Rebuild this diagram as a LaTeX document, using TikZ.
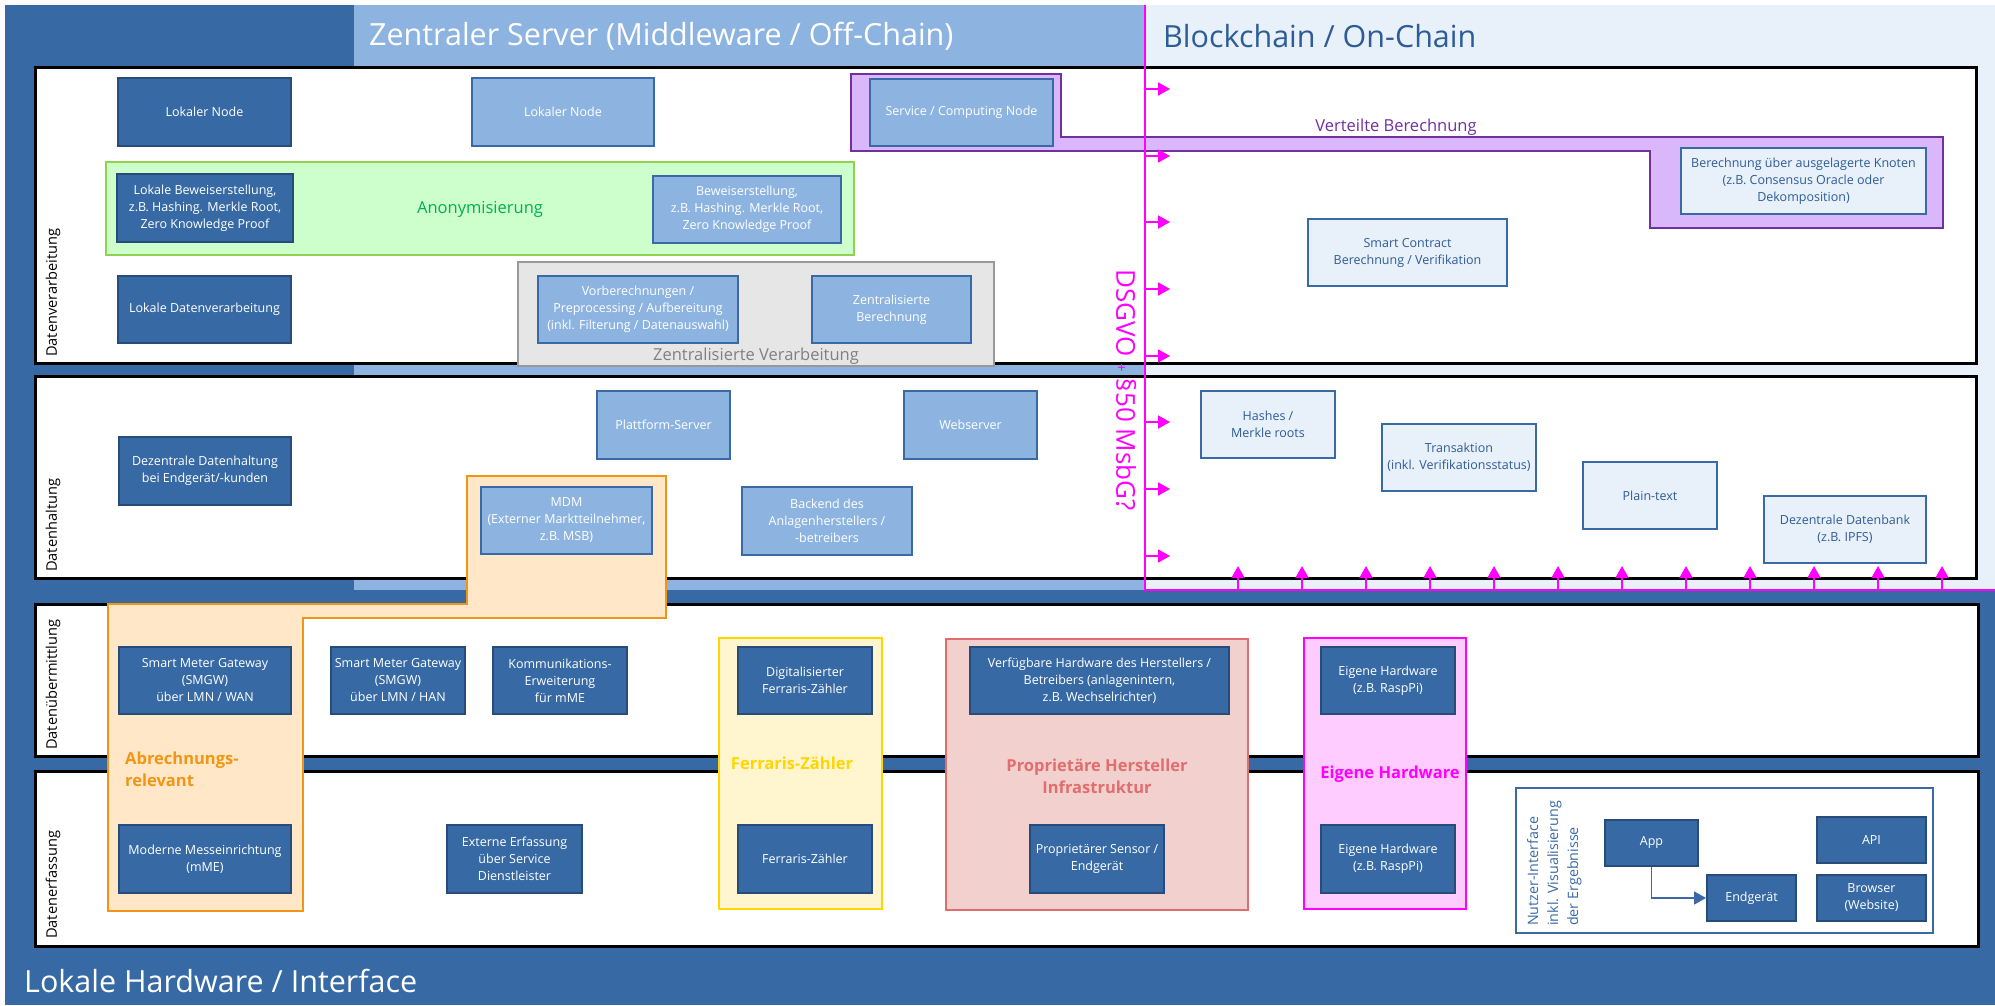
\documentclass[tikz,border=0pt]{standalone}
\usepackage{fontspec}
\setmainfont{Open Sans}
\usetikzlibrary{arrows.meta}
\definecolor{dunkelblau}{RGB}{55,106,164}
\definecolor{randblau}{RGB}{40,76,122}
\definecolor{hellblau}{RGB}{141,180,224}
\definecolor{mittelblau}{RGB}{58,106,166}
\definecolor{blassblau}{RGB}{232,240,249}
\definecolor{textblau}{RGB}{46,92,150}
\definecolor{lila}{RGB}{112,48,160}
\definecolor{lilahell}{RGB}{218,182,250}
\definecolor{gruen}{RGB}{0,176,80}
\definecolor{gruenhell}{RGB}{204,255,204}
\definecolor{gruenrand}{RGB}{146,208,80}
\definecolor{grauhell}{RGB}{230,230,230}
\definecolor{grau}{RGB}{128,128,128}
\definecolor{orange}{RGB}{240,150,20}
\definecolor{orangehell}{RGB}{255,231,200}
\definecolor{gelb}{RGB}{255,214,0}
\definecolor{gelbhell}{RGB}{255,245,206}
\definecolor{rot}{RGB}{224,110,110}
\definecolor{rothell}{RGB}{242,208,206}
\definecolor{magenta}{RGB}{255,0,255}
\definecolor{magentahell}{RGB}{255,204,255}
\begin{document}
\begin{tikzpicture}[x=1pt,y=-1pt,>={Triangle[length=12pt,width=13pt]}]
			\tikzset{box/.style={draw,line width=1.8pt,inner sep=0pt,align=center,font=\fontsize{12.5}{17}\selectfont},
				sz/.style 2 args={minimum width=#1pt,minimum height=#2pt},
				dbox/.style={box,fill=dunkelblau,draw=randblau,text=white},
				lbox/.style={box,fill=hellblau,draw=mittelblau,text=white},
				vbox/.style={box,fill=blassblau,draw=mittelblau,text=textblau},
				grp/.style={line width=2.2pt},
				panel/.style={draw=black,fill=white,line width=3pt},
				zeile/.style={rotate=90,anchor=west,inner sep=0pt,font=\fontsize{14.6}{14.6}\selectfont},
				titel/.style={anchor=west,inner sep=0pt,font=\fontsize{30.5}{30.5}\selectfont},
				glabel/.style={inner sep=0pt,align=center,font=\fontsize{16.5}{22}\selectfont},
				fett/.style={font=\bfseries\fontsize{16.5}{22}\selectfont},
				pfeil/.style={->,draw=magenta,line width=2pt}
			}
			\useasboundingbox (0,0) rectangle (1995,1005);
			\fill[dunkelblau] (5,5) rectangle (1995,1005);
			\fill[hellblau] (354,5) rectangle (1145,590);
			\fill[blassblau] (1145,5) rectangle (1995,590);
			\node[titel,text=white] (tZentral) at (369,36) {Zentraler Server (Middleware / Off-Chain)};
			\node[titel,text=textblau] (tChain) at (1163,36) {Blockchain / On-Chain};
			\node[titel,text=white] (tLokal) at (24,981) {Lokale Hardware / Interface};
			% Zeilen
			\draw[panel] (35,67) rectangle (1976,363);
			\draw[panel] (35,376) rectangle (1976,578);
			\draw[panel] (35,604) rectangle (1978,756);
			\draw[panel] (35,771) rectangle (1978,946);
			\node[zeile] (zVerarb) at (53,357) {Datenverarbeitung};
			\node[zeile] (zHaltung) at (53,572) {Datenhaltung};
			\node[zeile] (zUebermitt) at (53,750) {Datenübermittlung};
			\node[zeile] (zErfass) at (53,939) {Datenerfassung};
			% Gruppen
			\filldraw[grp,draw=gruenrand,fill=gruenhell] (106,162) rectangle (854,255);
			\filldraw[grp,draw=grau!80,fill=grauhell] (518,262) rectangle (994,366);
			\filldraw[draw=lila,fill=lilahell,line width=2.5pt] (851,74) -- (1061,74) -- (1061,137) -- (1943,137) -- (1943,228) -- (1650,228) -- (1650,151) -- (851,151) -- cycle;
			\filldraw[draw=orange,fill=orangehell,line width=2.5pt] (108,604) -- (467,604) -- (467,476) -- (666,476) -- (666,618) -- (303,618) -- (303,911) -- (108,911) -- cycle;
			\filldraw[grp,draw=gelb,fill=gelbhell] (719,638) rectangle (882,909);
			\filldraw[grp,draw=rot,fill=rothell] (946,639) rectangle (1248,910);
			\filldraw[grp,draw=magenta,fill=magentahell] (1304,638) rectangle (1466,909);
			\filldraw[line width=1.5pt,draw=mittelblau,fill=white] (1516,788) rectangle (1933,933);
			% DSGVO-Grenze
			\draw[magenta,line width=2.5pt] (1145,5) -- (1145,590) -- (1995,590);
			\foreach \y in {89,156,222,289,356,422,489,556} \draw[pfeil] (1145,\y) -- ++(25,0);
			\foreach \i in {0,...,11} \draw[pfeil] ({1238+64*\i},590) -- ++(0,-24);
			\node[rotate=-90,inner sep=0pt,text=magenta,font=\fontsize{26}{26}\selectfont] (dsgvo) at (1126,390) {DSGVO {\fontsize{15}{15}\selectfont+} §50 MsbG?};
			% Datenverarbeitung
			\node[dbox,sz={173}{68}] (lokNodeA) at (204.5,112) {Lokaler Node};
			\node[lbox,sz={182}{68}] (lokNodeB) at (563,112) {Lokaler Node};
			\node[lbox,sz={183}{67}] (servNode) at (961.5,112.5) {Service / Computing Node};
			\node[vbox,sz={245}{66}] (auslKnoten) at (1803.5,181) {Berechnung über ausgelagerte Knoten\\(z.B. Consensus Oracle oder\\Dekomposition)};
			\node[dbox,sz={176}{68}] (lokBeweis) at (205,208) {Lokale Beweiserstellung,\\z.B. Hashing. Merkle Root,\\Zero Knowledge Proof};
			\node[lbox,sz={188}{67}] (beweis) at (747,209.5) {Beweiserstellung,\\z.B. Hashing. Merkle Root,\\Zero Knowledge Proof};
			\node[dbox,sz={173}{67}] (lokVerarb) at (204.5,309.5) {Lokale Datenverarbeitung};
			\node[lbox,sz={200}{67}] (vorber) at (638,309.5) {Vorberechnungen /\\Preprocessing / Aufbereitung\\(inkl. Filterung / Datenauswahl)};
			\node[lbox,sz={159}{67}] (zentBer) at (891.5,309.5) {Zentralisierte\\Berechnung};
			\node[vbox,sz={199}{67}] (smartC) at (1407.5,252.5) {Smart Contract\\Berechnung / Verifikation};
			% Datenhaltung
			\node[dbox,sz={172}{68}] (dezDaten) at (205,471) {Dezentrale Datenhaltung\\bei Endgerät/-kunden};
			\node[lbox,sz={133}{68}] (plattf) at (663.5,425) {Plattform-Server};
			\node[lbox,sz={133}{68}] (websrv) at (970.5,425) {Webserver};
			\node[lbox,sz={171}{67}] (mdm) at (566.5,520.5) {MDM\\(Externer Marktteilnehmer,\\z.B. MSB)};
			\node[lbox,sz={170}{68}] (backend) at (827,521) {Backend des\\Anlagenherstellers /\\-betreibers};
			\node[vbox,sz={134}{67}] (hashes) at (1268,424.5) {Hashes /\\Merkle roots};
			\node[vbox,sz={154}{67}] (transakt) at (1459,457.5) {Transaktion\\(inkl. Verifikationsstatus)};
			\node[vbox,sz={134}{67}] (plain) at (1650,495.5) {Plain-text};
			\node[vbox,sz={162}{67}] (dezDB) at (1845,529.5) {Dezentrale Datenbank\\(z.B. IPFS)};
			% Datenuebermittlung
			\node[dbox,sz={172}{67}] (smgwWan) at (205,680.5) {Smart Meter Gateway\\(SMGW)\\über LMN / WAN};
			\node[dbox,sz={134}{67}] (smgwHan) at (398,680.5) {Smart Meter Gateway\\(SMGW)\\über LMN / HAN};
			\node[dbox,sz={134}{67}] (kommErw) at (560,680.5) {Kommunikations-\\Erweiterung\\für mME};
			\node[dbox,sz={134}{67}] (digiFerr) at (805,680.5) {Digitalisierter\\Ferraris-Zähler};
			\node[dbox,sz={259}{67}] (verfHw) at (1099.5,680.5) {Verfügbare Hardware des Herstellers /\\Betreibers (anlagenintern,\\z.B. Wechselrichter)};
			\node[dbox,sz={134}{67}] (eigHwA) at (1388,680.5) {Eigene Hardware\\(z.B. RaspPi)};
			% Datenerfassung
			\node[dbox,sz={172}{68}] (mME) at (205,859) {Moderne Messeinrichtung\\(mME)};
			\node[dbox,sz={135}{68}] (extErf) at (514.5,859) {Externe Erfassung\\über Service\\Dienstleister};
			\node[dbox,sz={134}{68}] (ferr) at (805,859) {Ferraris-Zähler};
			\node[dbox,sz={134}{68}] (propSens) at (1097,859) {Proprietärer Sensor /\\Endgerät};
			\node[dbox,sz={134}{68}] (eigHwB) at (1388,859) {Eigene Hardware\\(z.B. RaspPi)};
			\node[dbox,sz={93}{46}] (app) at (1651.5,843) {App};
			\node[dbox,sz={89}{46}] (endger) at (1751.5,898) {Endgerät};
			\node[dbox,sz={109}{46}] (api) at (1871.5,840) {API};
			\node[dbox,sz={109}{46}] (browser) at (1871.5,898) {Browser\\(Website)};
			\draw[->,draw=mittelblau,line width=1.5pt] (app.south) |- (endger.west);
			% Gruppentexte
			\node[glabel,text=gruen] (lAnon) at (480,209) {Anonymisierung};
			\node[glabel,text=grau] (lZentral) at (756,356) {Zentralisierte Verarbeitung};
			\node[glabel,text=lila] (lVerteilt) at (1396,127) {Verteilte Berechnung};
			\node[glabel,fett,text=orange,anchor=west,align=left] (lAbrech) at (125,769) {Abrechnungs-\\relevant};
			\node[glabel,fett,text=gelb] (lFerraris) at (792,763) {Ferraris-Zähler};
			\node[glabel,fett,text=rot] (lPropr) at (1097,776) {Proprietäre Hersteller\\Infrastruktur};
			\node[glabel,fett,text=magenta] (lEigen) at (1390,774) {Eigene Hardware};
			\node[rotate=90,anchor=north west,inner sep=0pt,align=left,text=mittelblau,font=\fontsize{14.3}{20}\selectfont] (lNutzer) at (1527,926) {Nutzer-Interface\\inkl. Visualisierung\\der Ergebnisse};
\end{tikzpicture}
\end{document}
